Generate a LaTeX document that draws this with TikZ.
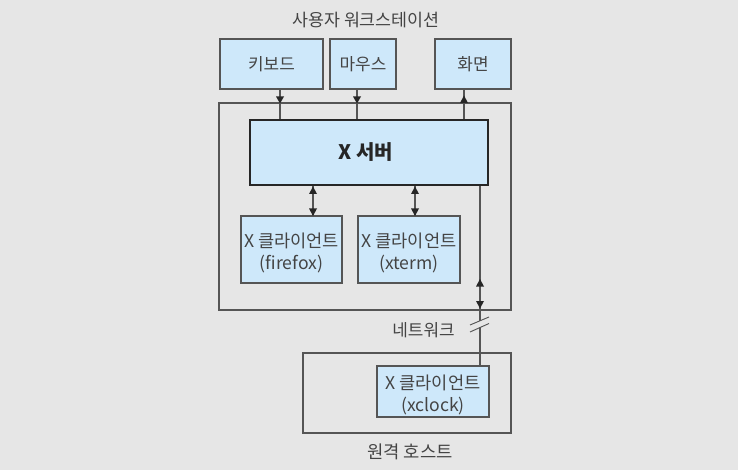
\documentclass[tikz,border=0pt]{standalone}
\usepackage{fontspec}
\setmainfont{Noto Sans CJK KR}[Scale=1]
\usetikzlibrary{arrows.meta,calc}
\definecolor{bgc}{HTML}{E6E6E6}
\definecolor{boxc}{HTML}{CEE8FA}
\definecolor{linec}{HTML}{555555}
\definecolor{txtc}{HTML}{444444}
\tikzset{
  x=0.75pt,y=-0.75pt,
  pbox/.style={draw=linec,fill=boxc,line width=0.9pt,inner sep=0pt,align=center,text=txtc,font=\fontsize{12.7}{15}\selectfont},
  cbox/.style={pbox,font=\fontsize{13.2}{17}\selectfont},
  frame/.style={draw=linec,line width=0.9pt,inner sep=0pt},
  server/.style={draw=black!85,fill=boxc,line width=1.5pt,inner sep=0pt},
  lbl/.style={text=txtc,inner sep=0pt,font=\fontsize{13}{15}\selectfont},
  wire/.style={draw=linec,line width=0.9pt},
  headmid/.style={black!85}
}
\newcommand{\boxat}[6]{\node[#1,minimum width=#4*0.75pt,minimum height=#5*0.75pt] (#2) at (#3) {#6};}
\newcommand{\lowr}{\rule{0pt}{16pt}}
\begin{document}
\begin{tikzpicture}
\useasboundingbox (0,0) rectangle (738,470);
\fill[bgc] (0,0) rectangle (738,470);
\boxat{frame}{outer}{365,206.5}{292}{207}{}
\boxat{frame}{remote}{407,393}{208}{80}{}
\boxat{pbox}{kb}{271.5,64}{103}{50}{키보드}
\boxat{pbox}{mouse}{363,64}{66}{50}{마우스}
\boxat{pbox}{screen}{473,64}{76}{50}{화면}
\boxat{server}{srv}{369,152.5}{238}{65}{}
\node[text=black!85,inner sep=0pt,font=\bfseries\fontsize{15}{18}\selectfont] (srvt) at (366,152.5) {X 서버};
\boxat{cbox}{ff}{291.5,249.5}{101}{67}{\lowr X 클라이언트\\(firefox)}
\boxat{cbox}{xt}{409,249.5}{102}{67}{\lowr X 클라이언트\\(xterm)}
\boxat{cbox}{xc}{433,391.5}{112}{51}{\lowr X 클라이언트\\(xclock)}
\node[lbl] (t1) at (366,20) {사용자 워크스테이션};
\node[lbl,font=\fontsize{12.7}{15}\selectfont] (t2) at (423.5,330) {네트워크};
\node[lbl,font=\fontsize{13.3}{15}\selectfont] (t3) at (410,452) {원격 호스트};
% connectors
\coordinate (a1) at (280,103); \coordinate (a2) at (357,103); \coordinate (a3) at (464,97);
\draw[wire] (kb.south -| a1) -- (srv.north -| a1);
\draw[wire] (mouse.south -| a2) -- (srv.north -| a2);
\draw[wire] (screen.south -| a3) -- (srv.north -| a3);
\fill[headmid] (276,96.5) -- (284,96.5) -- (280,103.5) -- cycle;
\fill[headmid] (353,96.5) -- (361,96.5) -- (357,103.5) -- cycle;
\fill[headmid] (460,103) -- (468,103) -- (464,95.5) -- cycle;
\coordinate (b1) at (313,200); \coordinate (b2) at (415,200);
\draw[wire] (srv.south -| b1) -- (ff.north -| b1);
\draw[wire] (srv.south -| b2) -- (xt.north -| b2);
\fill[headmid] (309,194) -- (317,194) -- (313,186.5) -- cycle;
\fill[headmid] (309,208.5) -- (317,208.5) -- (313,216) -- cycle;
\fill[headmid] (411,194) -- (419,194) -- (415,186.5) -- cycle;
\fill[headmid] (411,208.5) -- (419,208.5) -- (415,216) -- cycle;
\coordinate (c) at (480,300);
\draw[wire] (srv.south -| c) -- (xc.north -| c);
\fill[headmid] (476,286.5) -- (484,286.5) -- (480,279) -- cycle;
\fill[headmid] (476,301) -- (484,301) -- (480,308.5) -- cycle;
\fill[bgc] (470,325) -- (489,317) -- (489,323) -- (470,332) -- cycle;
\draw[draw=linec,line width=0.7pt] (470,325) -- (489,317) (470,332) -- (489,323.5);
\end{tikzpicture}
\end{document}
